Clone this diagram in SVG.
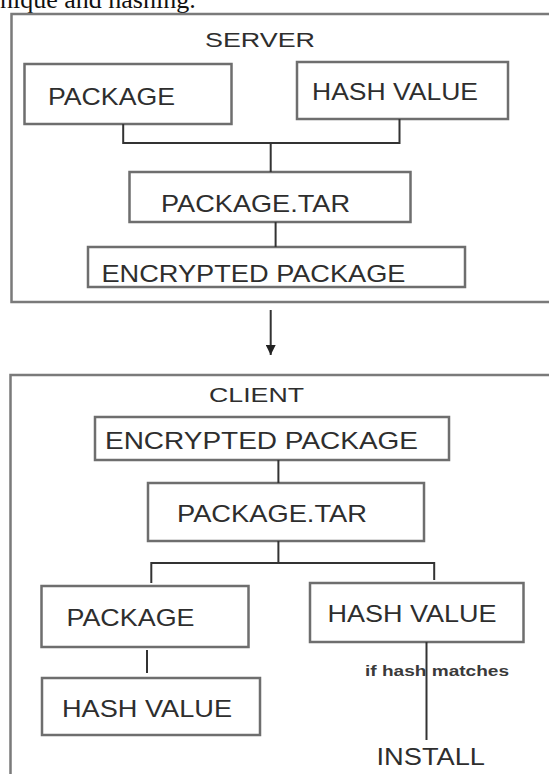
<svg xmlns="http://www.w3.org/2000/svg" width="549" height="774" viewBox="0 0 549 774">
  <defs>
    <style>
      .outer { fill: none; stroke: #7a7a7a; stroke-width: 2.5; }
      .box { fill: #ffffff; stroke: #6e6e6e; stroke-width: 2.5; }
      .lbl { font-family: "Liberation Sans", Arial, sans-serif; fill: #2e2e2e; font-size: 24px; }
      .title { font-family: "Liberation Sans", Arial, sans-serif; fill: #2e2e2e; font-size: 21px; }
      .conn { stroke: #333333; stroke-width: 2; fill: none; }
      .note { font-family: "Liberation Sans", Arial, sans-serif; fill: #3a3a3a; font-size: 15px; font-weight: bold; }
    </style>
    <marker id="arrow" markerWidth="10" markerHeight="10" refX="10" refY="5" orient="auto" markerUnits="userSpaceOnUse" viewBox="0 0 10 10">
      <path d="M0,0 L10,5 L0,10 Z" fill="#222222"/>
    </marker>
  </defs>
  <rect width="549" height="774" fill="#ffffff"/>

  <text x="0" y="8" font-family="'Liberation Serif', 'Times New Roman', serif" font-size="26" fill="#111111">nique and hashing.</text>

  <g id="server">
    <rect class="outer" x="11.5" y="14" width="560" height="288"/>
    <text class="title" x="205" y="47" textLength="110" lengthAdjust="spacingAndGlyphs">SERVER</text>
  </g>
  <g id="server-package">
    <rect class="box" x="24.5" y="64" width="207" height="60"/>
    <text class="lbl" x="48" y="105" textLength="127" lengthAdjust="spacingAndGlyphs">PACKAGE</text>
  </g>
  <g id="server-hash">
    <rect class="box" x="297" y="62" width="211" height="57"/>
    <text class="lbl" x="312" y="100" textLength="166" lengthAdjust="spacingAndGlyphs">HASH VALUE</text>
  </g>
  <g id="server-tar">
    <rect class="box" x="129.5" y="172" width="281" height="50"/>
    <text class="lbl" x="161" y="212" textLength="189" lengthAdjust="spacingAndGlyphs">PACKAGE.TAR</text>
  </g>
  <g id="server-encrypted">
    <rect class="box" x="88" y="247" width="377" height="40"/>
    <text class="lbl" x="101.5" y="282" textLength="304" lengthAdjust="spacingAndGlyphs">ENCRYPTED PACKAGE</text>
  </g>

  <g id="client">
    <rect class="outer" x="10.5" y="375" width="560" height="420"/>
    <text class="title" x="209" y="402" textLength="95" lengthAdjust="spacingAndGlyphs">CLIENT</text>
  </g>
  <g id="client-encrypted">
    <rect class="box" x="95" y="417" width="354" height="43"/>
    <text class="lbl" x="105" y="449" textLength="313" lengthAdjust="spacingAndGlyphs">ENCRYPTED PACKAGE</text>
  </g>
  <g id="client-tar">
    <rect class="box" x="148" y="483" width="276" height="58"/>
    <text class="lbl" x="177" y="522" textLength="190" lengthAdjust="spacingAndGlyphs">PACKAGE.TAR</text>
  </g>
  <g id="client-package">
    <rect class="box" x="41.5" y="586" width="207" height="61"/>
    <text class="lbl" x="66.5" y="626" textLength="128" lengthAdjust="spacingAndGlyphs">PACKAGE</text>
  </g>
  <g id="client-hash-right">
    <rect class="box" x="310" y="583" width="213.5" height="59"/>
    <text class="lbl" x="327.5" y="622" textLength="169" lengthAdjust="spacingAndGlyphs">HASH VALUE</text>
  </g>
  <g id="client-hash-left">
    <rect class="box" x="42" y="678" width="218" height="57"/>
    <text class="lbl" x="62" y="717" textLength="170" lengthAdjust="spacingAndGlyphs">HASH VALUE</text>
  </g>
  <g id="install">
    <text class="lbl" x="376.5" y="765" textLength="108.5" lengthAdjust="spacingAndGlyphs">INSTALL</text>
  </g>

  <g id="connectors">
    <polyline class="conn" points="123.2,124 123.2,143 399.5,143 399.5,119"/>
    <line class="conn" x1="270.7" y1="143" x2="270.7" y2="172"/>
    <line class="conn" x1="275.6" y1="222" x2="275.6" y2="247"/>
    <line class="conn" x1="270.7" y1="310" x2="270.7" y2="355" marker-end="url(#arrow)"/>
    <line class="conn" x1="278.4" y1="460" x2="278.4" y2="483"/>
    <line class="conn" x1="278.4" y1="541" x2="278.4" y2="563"/>
    <polyline class="conn" points="151.3,583 151.3,563 434.2,563 434.2,580"/>
    <line class="conn" x1="147" y1="650" x2="147" y2="673"/>
    <text class="note" x="365" y="676" textLength="144" lengthAdjust="spacingAndGlyphs">if hash matches</text>
    <line class="conn" x1="426.5" y1="642" x2="426.5" y2="740"/>
  </g>
</svg>
